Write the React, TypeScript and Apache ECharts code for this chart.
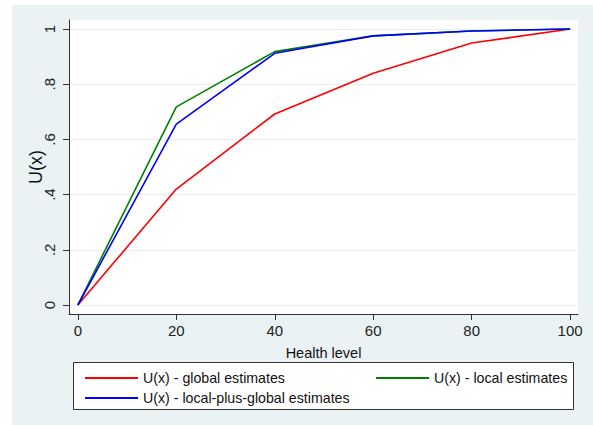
import React, { useEffect, useRef } from "react";
import * as echarts from "echarts";

const healthLevels = [0, 20, 40, 60, 80, 100];
const globalEstimates = [0, 0.42, 0.692, 0.84, 0.949, 1];
const localEstimates = [0, 0.718, 0.918, 0.975, 0.993, 1];
const localPlusGlobal = [0, 0.655, 0.912, 0.975, 0.993, 1];
const yTicks = [0, 0.2, 0.4, 0.6, 0.8, 1];
const xTicks = [0, 20, 40, 60, 80, 100];
const seriesNames = [
  "U(x) - global estimates",
  "U(x) - local estimates",
  "U(x) - local-plus-global estimates",
];

const FONT = "'Liberation Sans', Arial, sans-serif";

export default function App() {
  const ref = useRef<HTMLDivElement>(null);
  useEffect(() => {
    if (!ref.current) return;
    const chart = echarts.init(ref.current, undefined, { renderer: "svg" });
    const pairs = (ys: number[]) => healthLevels.map((x, i) => [x, ys[i]]);
    const mkSeries = (name: string, ys: number[], color: string) => ({
      name,
      type: "line",
      data: pairs(ys),
      showSymbol: false,
      symbol: "none",
      lineStyle: { color, width: 1.6 },
      itemStyle: { color },
    });
    const legendCommon = {
      orient: "horizontal",
      icon: "rect",
      itemWidth: 53,
      itemHeight: 2,
      textStyle: { fontFamily: FONT, fontSize: 14.2, color: "#111" },
      selectedMode: false,
    };
    chart.setOption({
      animation: false,
      backgroundColor: "#ffffff",
      graphic: [
        {
          type: "rect",
          z: -10,
          shape: { x: 12, y: 5, width: 581, height: 420 },
          style: { fill: "#EAF2F3" },
          silent: true,
        },
        {
          type: "rect",
          z: 0,
          shape: { x: 73.5, y: 362.5, width: 500, height: 47 },
          style: { fill: "#ffffff", stroke: "#333333", lineWidth: 1 },
          silent: true,
        },
      ],
      grid: {
        left: 69,
        top: 20,
        width: 509,
        height: 294,
        show: true,
        backgroundColor: "#ffffff",
        borderWidth: 0,
        containLabel: false,
      },
      xAxis: {
        type: "value",
        min: -1.8,
        max: 101.6,
        name: "Health level",
        nameLocation: "middle",
        nameGap: 31,
        nameTextStyle: { fontFamily: FONT, fontSize: 14.5, color: "#111" },
        axisLine: { show: true, onZero: false, lineStyle: { color: "#333", width: 1 } },
        axisTick: { show: true, length: 6, customValues: xTicks, lineStyle: { color: "#333" } },
        axisLabel: {
          customValues: xTicks,
          margin: 9,
          fontFamily: FONT,
          fontSize: 15,
          color: "#222",
        },
        splitLine: { show: false },
      },
      yAxis: {
        type: "value",
        min: -0.0326,
        max: 1.0326,
        name: "U(x)",
        nameLocation: "middle",
        nameGap: 24,
        nameRotate: 90,
        nameMoveOverlap: false,
        nameTextStyle: { fontFamily: FONT, fontSize: 18, color: "#111" },
        axisLine: { show: true, onZero: false, lineStyle: { color: "#333", width: 1 } },
        axisTick: { show: true, length: 6, customValues: yTicks, lineStyle: { color: "#333" } },
        axisLabel: {
          customValues: yTicks,
          rotate: 90,
          margin: 12,
          fontFamily: FONT,
          fontSize: 15,
          color: "#222",
          formatter: (v: number) => {
            if (Math.abs(v) < 1e-9) return "0";
            if (Math.abs(v - 1) < 1e-9) return "1";
            return "." + Math.round(v * 10);
          },
        },
        splitLine: { show: true, lineStyle: { color: "#EAF0F2", width: 1 } },
      },
      legend: [
        { ...legendCommon, data: [seriesNames[0]], left: 80, top: 366 },
        { ...legendCommon, data: [seriesNames[1]], left: 371, top: 366 },
        { ...legendCommon, data: [seriesNames[2]], left: 80, top: 386 },
      ],
      series: [
        mkSeries(seriesNames[0], globalEstimates, "#FF0000"),
        mkSeries(seriesNames[1], localEstimates, "#008000"),
        mkSeries(seriesNames[2], localPlusGlobal, "#0000FF"),
      ],
    });
    return () => chart.dispose();
  }, []);
  return (
    <div
      ref={ref}
      style={{ position: "fixed", left: 0, top: 0, width: 593, height: 425 }}
    />
  );
}
